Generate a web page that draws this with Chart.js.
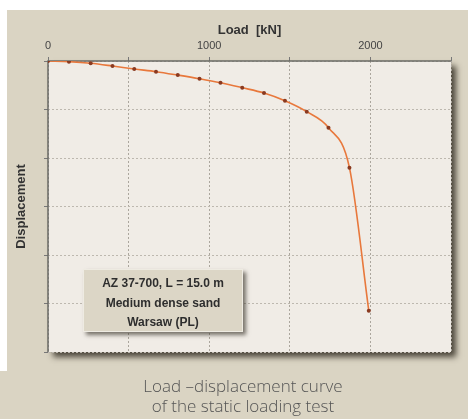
<!DOCTYPE html>
<html>
<head>
<meta charset="utf-8">
<script src="https://cdn.jsdelivr.net/npm/chart.js@4/dist/chart.umd.min.js"></script>
<style>
  body { margin: 0; background: #fff; width: 468px; height: 419px; overflow: hidden; position: relative; }
  .bg { position: absolute; background: #dad4c3; }
  #wrap { position: absolute; left: 0; top: 0; width: 468px; height: 419px; }
  .caption { position: absolute; left: 0; width: 486px; text-align: center; font-family: "Open Sans", sans-serif; font-weight: 300; font-size: 17px; color: #555; line-height: 20px; }
</style>
</head>
<body>
<div class="bg" style="left:7px;top:10px;width:461px;height:409px"></div>
<div class="bg" style="left:0;top:371px;width:7px;height:48px"></div>
<div id="wrap"><canvas id="chart" width="468" height="419"></canvas></div>
<div class="caption" style="top:376px">Load –displacement curve<br>of the static loading test</div>
<script>
// load steps of the static test and measured displacement (relative units)
const loads = [0, 130, 265, 400, 535, 670, 805, 940, 1070, 1205, 1340, 1470, 1605, 1740, 1870, 1990];
const displacement = [0, 0.14, 0.47, 1.03, 1.65, 2.2, 2.9, 3.65, 4.47, 5.5, 6.6, 8.2, 10.45, 13.75, 22.0, 51.5];
const loadLabels = [0, 1000, 2000];
const noteLines = ['AZ 37-700, L = 15.0 m', 'Medium dense sand', 'Warsaw (PL)'];

const plotFrame = {
    id: 'plotFrame',
    beforeDraw: chart => {
        const { ctx, chartArea: a } = chart;
        ctx.save();
        ctx.shadowColor = 'rgba(40,35,25,0.8)';
        ctx.shadowBlur = 6;
        ctx.shadowOffsetX = 5;
        ctx.shadowOffsetY = 5;
        ctx.fillStyle = '#f0ece6';
        ctx.fillRect(a.left, a.top, a.right - a.left, a.bottom - a.top);
        ctx.restore();
    },
    beforeDatasetsDraw: chart => {
        // solid axis lines on the left and top edges
        const { ctx, chartArea: a } = chart;
        ctx.save();
        ctx.setLineDash([]);
        ctx.strokeStyle = '#6a6a66';
        ctx.lineWidth = 1.5;
        ctx.beginPath();
        ctx.moveTo(a.left, a.bottom);
        ctx.lineTo(a.left, a.top);
        ctx.lineTo(a.right, a.top);
        ctx.stroke();
        ctx.restore();
    },
    afterDraw: chart => {
        const { ctx } = chart;
        // note box in lower left
        const bx = 83, by = 269, bw = 160, bh = 63;
        ctx.save();
        ctx.shadowColor = 'rgba(40,35,25,0.6)';
        ctx.shadowBlur = 4;
        ctx.shadowOffsetX = 3;
        ctx.shadowOffsetY = 3;
        ctx.fillStyle = '#dcd6c6';
        ctx.fillRect(bx, by, bw, bh);
        ctx.restore();
        ctx.save();
        ctx.strokeStyle = '#eeebe2';
        ctx.lineWidth = 1;
        ctx.strokeRect(bx + 0.5, by + 0.5, bw - 1, bh - 1);
        ctx.fillStyle = '#2e2e2e';
        ctx.font = 'bold 12px "Liberation Sans", Arial, sans-serif';
        ctx.textAlign = 'center';
        ctx.textBaseline = 'middle';
        noteLines.forEach((t, i) => ctx.fillText(t, bx + bw / 2, by + 15 + i * 19.5));
        ctx.restore();
    }
};

new Chart(document.getElementById('chart'), {
    type: 'scatter',
    data: {
        datasets: [{
            data: loads.map((l, i) => ({ x: l, y: displacement[i] })),
            showLine: true,
            borderColor: '#e8783c',
            borderWidth: 1.6,
            cubicInterpolationMode: 'monotone',
            pointRadius: 2,
            pointBackgroundColor: '#8a3a20',
            pointBorderWidth: 0
        }]
    },
    options: {
        responsive: false,
        animation: false,
        layout: { padding: { left: 0, top: 0, right: 17, bottom: 67 } },
        plugins: { legend: { display: false }, tooltip: { enabled: false } },
        scales: {
            x: {
                type: 'linear',
                position: 'top',
                min: 0, max: 2500,
                afterFit: s => { s.height = 61; },
                ticks: {
                    stepSize: 500,
                    padding: 4,
                    color: '#444',
                    font: { family: '"Liberation Sans", Arial, sans-serif', size: 11 },
                    callback: v => loadLabels.includes(v) ? v : ''
                },
                grid: { color: '#aba69d', tickColor: '#777', tickLength: 4, tickBorderDash: [] },
                border: { display: false, dash: [2, 2] },
                title: {
                    display: true, text: 'Load  [kN]', color: '#333',
                    font: { family: '"Liberation Sans", Arial, sans-serif', size: 13, weight: 'bold' },
                    padding: { top: 23, bottom: 0 }
                }
            },
            y: {
                type: 'linear',
                reverse: true,
                min: 0, max: 60,
                afterFit: s => { s.width = 48; },
                ticks: { stepSize: 10, display: false },
                grid: { color: '#bdb8af', tickColor: '#777', tickLength: 4, tickBorderDash: [] },
                border: { display: false, dash: [2, 2] },
                title: {
                    display: true, text: 'Displacement', color: '#333',
                    font: { family: '"Liberation Sans", Arial, sans-serif', size: 13, weight: 'bold' },
                    padding: { top: 14, bottom: 0 }
                }
            }
        }
    },
    plugins: [plotFrame]
});
</script>
</body>
</html>
